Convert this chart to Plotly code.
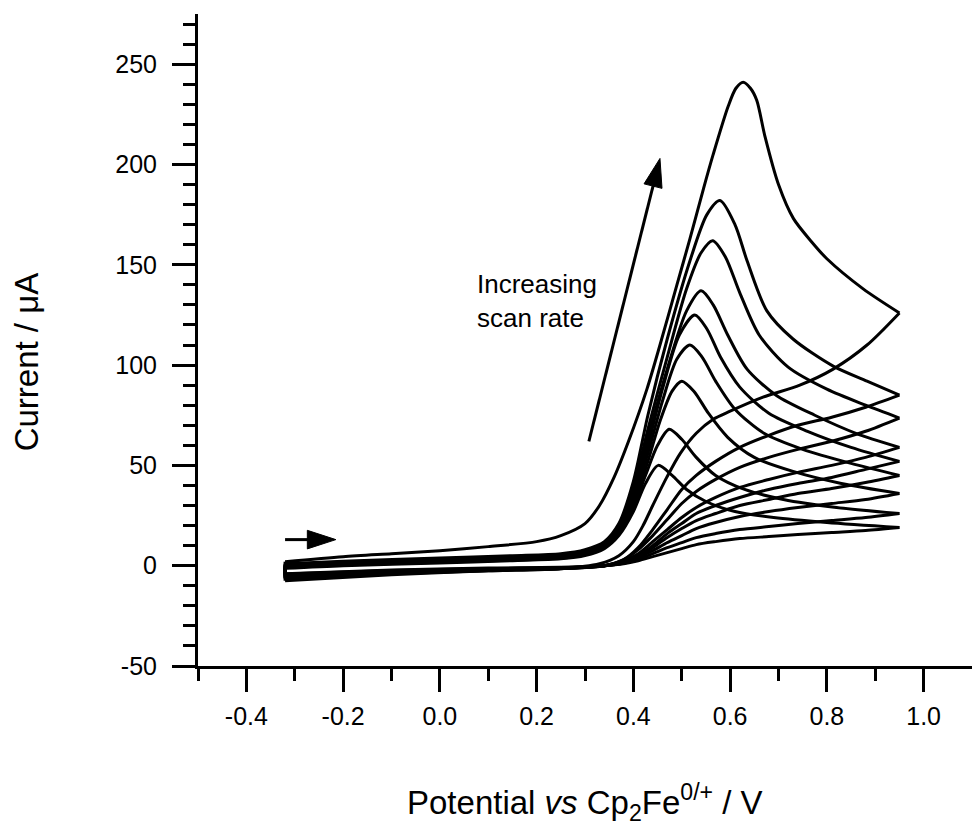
import numpy as np
import plotly.graph_objects as go

# ---- cyclic voltammograms, oxidation sweep then return sweep (V, uA) ----
# fastest scan rate
fwd_v_a = [-0.32, -0.2, -0.1, 0.0, 0.1, 0.2, 0.25, 0.30, 0.33, 0.36, 0.39, 0.428, 0.455, 0.49, 0.517,
           0.545, 0.565, 0.596, 0.612, 0.627, 0.642, 0.655, 0.672, 0.70, 0.731, 0.77, 0.80, 0.875, 0.95]
fwd_i_a = [2, 4.5, 6, 7.5, 9.5, 12, 15, 21, 30, 44, 62, 88, 110, 140, 163,
           188, 205, 229, 238, 241, 238, 232, 214, 190, 173, 161, 153, 138, 126]
rev_v_a = [0.95, 0.883, 0.813, 0.744, 0.668, 0.60, 0.565, 0.53, 0.497, 0.469, 0.44, 0.42, 0.40, 0.37,
           0.33, 0.25, 0.10, -0.10, -0.32]
rev_i_a = [126, 110, 98, 90, 84, 77, 73, 66, 56, 44, 30, 20, 12, 5, 1, -1.5, -2.5, -4.5, -7.5]

# return-sweep potentials shared by the slower scans
rev_v = [0.95, 0.88, 0.81, 0.74, 0.68, 0.62, 0.57, 0.53, 0.50, 0.47, 0.44, 0.41, 0.38, 0.34,
         0.25, 0.10, -0.10, -0.32]

fwd_v_b = [-0.32, -0.2, 0.0, 0.15, 0.25, 0.30, 0.34, 0.37, 0.40, 0.43, 0.47, 0.517, 0.552, 0.579,
           0.61, 0.635, 0.676, 0.73, 0.813, 0.883, 0.95]
fwd_i_b = [1.0, 2.2, 3.8, 5, 6, 8, 12, 21, 42, 75, 113, 152, 175, 182, 170, 152, 127, 113, 99.5, 92, 85]
rev_i_b = [85, 79, 74, 70, 65, 59, 52, 45, 38, 28, 18, 9, 3, 0, -1.5, -2.5, -4, -6.5]

fwd_v_c = [-0.32, -0.2, 0.0, 0.15, 0.25, 0.30, 0.34, 0.37, 0.40, 0.43, 0.47, 0.51, 0.54, 0.564,
           0.59, 0.62, 0.66, 0.72, 0.80, 0.88, 0.95]
fwd_i_c = [0.6, 1.8, 3.4, 4.5, 5.5, 7.4, 11.5, 20, 39, 68, 104, 138, 156, 162, 154, 136, 115, 99, 88, 80, 73.6]
rev_i_c = [73.6, 67, 62, 58, 54, 49, 43, 37, 31, 23, 15, 8, 3, 0, -1.4, -2.4, -3.8, -6.2]

fwd_v_d = [-0.32, -0.2, 0.0, 0.15, 0.25, 0.30, 0.34, 0.37, 0.40, 0.43, 0.47, 0.51, 0.54, 0.565,
           0.595, 0.635, 0.695, 0.775, 0.86, 0.95]
fwd_i_d = [0.3, 1.5, 3.0, 4.1, 5.0, 7.0, 11, 19.5, 37, 64, 98, 127, 137, 130, 115, 98, 85, 75, 66, 59]
rev_i_d = [59, 54, 50, 46.5, 43, 39, 34, 29, 24, 18, 12, 6, 2.5, 0, -1.3, -2.2, -3.5, -5.8]

fwd_v_e = [-0.32, -0.2, 0.0, 0.15, 0.25, 0.30, 0.34, 0.37, 0.40, 0.43, 0.46, 0.495, 0.527, 0.552,
           0.58, 0.62, 0.68, 0.76, 0.85, 0.95]
fwd_i_e = [0.0, 1.2, 2.6, 3.7, 4.6, 6.6, 10.5, 19, 35, 60, 88, 115, 125, 118, 104, 89, 76, 67, 59, 52]
rev_i_e = [52, 48, 44, 41, 38, 34, 30, 26, 21, 16, 10, 5, 2, 0, -1.2, -2.0, -3.2, -5.4]

fwd_v_f = [-0.32, -0.2, 0.0, 0.15, 0.25, 0.30, 0.34, 0.37, 0.40, 0.43, 0.46, 0.49, 0.517, 0.542,
           0.57, 0.61, 0.67, 0.75, 0.85, 0.95]
fwd_i_f = [-0.3, 0.9, 2.3, 3.4, 4.3, 6.2, 10, 18, 33, 56, 82, 103, 110, 104, 92, 78, 66, 58, 51, 45]
rev_i_f = [45, 41.5, 38.5, 36, 33, 30, 26, 22.5, 18.5, 14, 9, 4.5, 1.8, 0, -1.1, -1.8, -3.0, -5.0]

fwd_v_g = [-0.32, -0.2, 0.0, 0.15, 0.25, 0.30, 0.34, 0.37, 0.40, 0.43, 0.455, 0.48, 0.50, 0.525,
           0.555, 0.595, 0.65, 0.73, 0.83, 0.95]
fwd_i_g = [-0.6, 0.6, 2.0, 3.1, 4.0, 5.8, 9.5, 17, 31, 52, 72, 87, 92, 87, 76, 64, 54, 47, 41, 36]
rev_i_g = [36, 33, 31, 29, 27, 24.5, 21.5, 18.5, 15, 11.5, 7.5, 4, 1.5, 0, -1, -1.6, -2.7, -4.6]

fwd_v_h = [-0.32, -0.2, 0.0, 0.15, 0.25, 0.30, 0.34, 0.37, 0.40, 0.425, 0.45, 0.474, 0.50, 0.53,
           0.57, 0.63, 0.71, 0.82, 0.95]
fwd_i_h = [-1.0, 0.3, 1.7, 2.8, 3.7, 5.4, 9, 16, 29, 45, 60, 68, 63, 54, 45, 38, 33, 29, 26]
rev_i_h = [26, 24, 22.5, 21, 19.5, 18, 16, 14, 11.5, 9, 6, 3.2, 1.2, 0, -0.9, -1.4, -2.4, -4.2]

# slowest scan rate
fwd_v_i = [-0.32, -0.2, 0.0, 0.15, 0.25, 0.30, 0.34, 0.37, 0.40, 0.425, 0.4515, 0.48, 0.51, 0.55,
           0.61, 0.69, 0.80, 0.95]
fwd_i_i = [-1.3, 0.0, 1.4, 2.5, 3.4, 5.0, 8.5, 15, 27, 41, 50, 45, 38, 32, 27, 24, 21.5, 19]
rev_i_i = [19, 17.5, 16.5, 15.5, 14.5, 13.5, 12, 10.5, 8.5, 6.5, 4.5, 2.5, 1, 0, -0.8, -1.2, -2.2, -4.0]

# ---- axis ticks ----
x_ticks = [-0.4, -0.2, 0.0, 0.2, 0.4, 0.6, 0.8, 1.0]
x_tick_text = ["-0.4", "-0.2", "0.0", "0.2", "0.4", "0.6", "0.8", "1.0"]
y_ticks = [-50, 0, 50, 100, 150, 200, 250]
y_tick_text = ["-50", "0", "50", "100", "150", "200", "250"]

# ---- annotation arrows (V, uA) ----
rate_arrow_v = [0.308, 0.455]
rate_arrow_i = [62, 203]
sweep_arrow_v = [-0.32, -0.215]
sweep_arrow_i = [13, 13]

scans = [
    (fwd_v_a, fwd_i_a, rev_v_a, rev_i_a),
    (fwd_v_b, fwd_i_b, rev_v, rev_i_b),
    (fwd_v_c, fwd_i_c, rev_v, rev_i_c),
    (fwd_v_d, fwd_i_d, rev_v, rev_i_d),
    (fwd_v_e, fwd_i_e, rev_v, rev_i_e),
    (fwd_v_f, fwd_i_f, rev_v, rev_i_f),
    (fwd_v_g, fwd_i_g, rev_v, rev_i_g),
    (fwd_v_h, fwd_i_h, rev_v, rev_i_h),
    (fwd_v_i, fwd_i_i, rev_v, rev_i_i),
]

FONT = "Liberation Sans, Arial, sans-serif"
LW = 3

fig = go.Figure()
for fv, fi, rv, ri in scans:
    line = dict(color="black", width=LW, shape="spline", smoothing=0.8)
    fig.add_trace(go.Scatter(x=fv, y=fi, mode="lines", line=line, hoverinfo="skip"))
    fig.add_trace(go.Scatter(x=rv, y=ri, mode="lines", line=line, hoverinfo="skip"))
    # close the loop at the starting potential
    fig.add_trace(go.Scatter(x=[rv[-1], fv[0]], y=[ri[-1], fi[0]], mode="lines",
                             line=dict(color="black", width=LW), hoverinfo="skip"))

for av, ai, size in [(rate_arrow_v, rate_arrow_i, 30), (sweep_arrow_v, sweep_arrow_i, 30)]:
    fig.add_trace(go.Scatter(
        x=av, y=ai, mode="lines+markers",
        line=dict(color="black", width=3),
        marker=dict(symbol="arrow", size=[0, size], angleref="previous", color="#000000",
                    opacity=1, line=dict(width=1, color="#000000")),
        opacity=1,
        hoverinfo="skip"))

fig.add_annotation(x=0.0726, y=132, xref="x", yref="y", text="Increasing<br>scan rate",
                   showarrow=False, xanchor="left", yanchor="middle", align="left",
                   font=dict(family=FONT, size=26, color="black"))

axis_common = dict(
    showline=True, linecolor="black", linewidth=3, mirror=False,
    ticks="outside", ticklen=23, tickwidth=3, tickcolor="black",
    showgrid=False, zeroline=False,
    tickfont=dict(family=FONT, size=25, color="black"),
)

fig.update_xaxes(range=[-0.5, 1.1], tickmode="array", tickvals=x_ticks, ticktext=x_tick_text,
                 minor=dict(tickmode="array", tickvals=list(np.round(np.arange(-0.5, 1.05, 0.1), 2)),
                            ticks="outside", ticklen=12, tickwidth=3, tickcolor="black"),
                 ticklabelstandoff=3, **axis_common)
fig.update_yaxes(range=[-50, 275], tickmode="array", tickvals=y_ticks, ticktext=y_tick_text,
                 minor=dict(tickmode="array", tickvals=list(range(-40, 280, 10)),
                            ticks="outside", ticklen=12, tickwidth=3, tickcolor="black"),
                 ticklabelstandoff=10, **axis_common)

fig.add_annotation(x=0.5, y=-0.209, xref="paper", yref="paper",
                   text="Potential <i>vs</i> Cp<sub>2</sub>Fe<sup>0/+</sup> / V",
                   showarrow=False, xanchor="center", yanchor="middle",
                   font=dict(family=FONT, size=33, color="black"))
fig.add_annotation(x=-0.222, y=0.466, xref="paper", yref="paper", text="Current / \u03bcA",
                   textangle=-90, showarrow=False, xanchor="center", yanchor="middle",
                   font=dict(family=FONT, size=33, color="black"))

fig.update_layout(
    width=972, height=827,
    margin=dict(l=198, r=0, t=14, b=161),
    paper_bgcolor="white", plot_bgcolor="white",
    showlegend=False,
)

fig.write_html("out.html")
